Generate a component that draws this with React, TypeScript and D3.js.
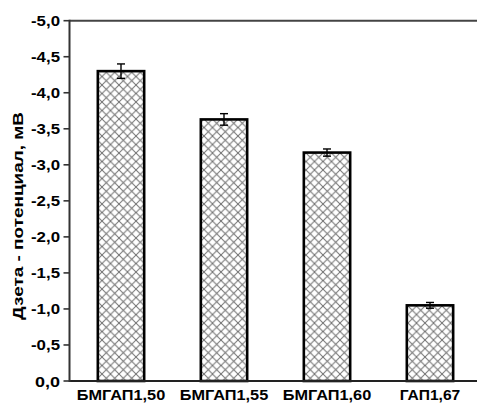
import React from "react";
import * as d3 from "d3";

const categories = ["БМГАП1,50", "БМГАП1,55", "БМГАП1,60", "ГАП1,67"];
const values = [-4.3, -3.63, -3.17, -1.05];
const errors = [0.1, 0.08, 0.05, 0.04];
const yTicks = [0, -0.5, -1, -1.5, -2, -2.5, -3, -3.5, -4, -4.5, -5];
const yLabel = "Дзета - потенциал, мВ";

const W = 477;
const H = 403;
const left = 69.5;
const top = 20.7;
const bottom = 381;

export default function App() {
  const x = d3
    .scaleBand<string>()
    .domain(categories)
    .range([left, left + 412])
    .paddingInner(0.55)
    .paddingOuter(0.275);
  const y = d3.scaleLinear().domain([0, -5]).range([bottom, top]);
  const fmt = (v: number) => d3.format(".1f")(v).replace(".", ",").replace("−", "-");
  const font = "'Liberation Sans', Arial, sans-serif";
  const xLabelLen = (c: string) => (c.length === 9 ? 88.5 : 60.5);

  return (
    <svg
      width={W}
      height={H}
      style={{ position: "absolute", left: 0, top: 0, background: "#fff" }}
    >
      <defs>
        <pattern id="hatch" width={8.5} height={8.5} patternUnits="userSpaceOnUse">
          <rect width={8.5} height={8.5} fill="#fff" />
          <path d="M0,0L8.5,8.5M0,8.5L8.5,0" stroke="#6e6e6e" strokeWidth={1} />
        </pattern>
      </defs>
      {categories.map((c, i) => {
        const x0 = x(c)!;
        const bw = x.bandwidth();
        const yv = y(values[i]);
        const cx = x0 + bw / 2;
        const eTop = y(values[i] - errors[i]);
        const eBot = y(values[i] + errors[i]);
        return (
          <g key={c}>
            <rect
              x={x0}
              y={yv}
              width={bw}
              height={bottom - yv}
              fill="url(#hatch)"
              stroke="#000"
              strokeWidth={2.6}
            />
            <line x1={cx} x2={cx} y1={eTop} y2={eBot} stroke="#000" strokeWidth={1.4} />
            <line x1={cx - 4} x2={cx + 4} y1={eTop} y2={eTop} stroke="#000" strokeWidth={1.4} />
            <line x1={cx - 4} x2={cx + 4} y1={eBot} y2={eBot} stroke="#000" strokeWidth={1.4} />
          </g>
        );
      })}
      <line x1={left} x2={W} y1={top} y2={top} stroke="#444" strokeWidth={2} />
      <line x1={left} x2={W} y1={bottom} y2={bottom} stroke="#222" strokeWidth={2} />
      <line x1={left} x2={left} y1={top - 1} y2={bottom + 1} stroke="#333" strokeWidth={2} />
      {yTicks.map((t) => (
        <g key={t}>
          <line x1={left - 6} x2={left} y1={y(t)} y2={y(t)} stroke="#333" strokeWidth={1.6} />
          <text
            x={60}
            y={y(t) + 5.5}
            textAnchor="end"
            fontFamily={font}
            fontWeight="bold"
            fontSize={15}
            fill="#000"
            textLength={t === 0 ? 25 : 29}
            lengthAdjust="spacingAndGlyphs"
          >
            {fmt(t)}
          </text>
        </g>
      ))}
      {categories.map((c) => (
        <text
          key={c}
          x={x(c)! + x.bandwidth() / 2}
          y={400}
          textAnchor="middle"
          fontFamily={font}
          fontWeight="bold"
          fontSize={15}
          fill="#000"
          textLength={xLabelLen(c)}
          lengthAdjust="spacingAndGlyphs"
        >
          {c}
        </text>
      ))}
      <text
        transform={`translate(23,216) rotate(-90)`}
        textAnchor="middle"
        fontFamily={font}
        fontWeight="bold"
        fontSize={15}
        fill="#000"
        textLength={208}
        lengthAdjust="spacingAndGlyphs"
      >
        {yLabel}
      </text>
    </svg>
  );
}
